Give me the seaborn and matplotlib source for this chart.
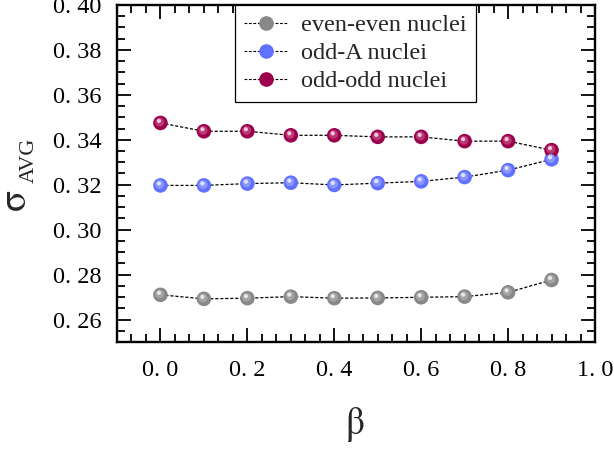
import numpy as np
import pandas as pd
import matplotlib
matplotlib.use("Agg")
import matplotlib.pyplot as plt
import matplotlib.transforms as mtransforms
from matplotlib.lines import Line2D
from matplotlib.ticker import AutoMinorLocator
import seaborn as sns

# ---- data ----
beta = [0.0, 0.1, 0.2, 0.3, 0.4, 0.5, 0.6, 0.7, 0.8, 0.9]
even_even = [0.2710, 0.2692, 0.2695, 0.2702, 0.2695, 0.2696, 0.2699, 0.2702, 0.2721, 0.2776]
odd_A = [0.3197, 0.3197, 0.3205, 0.3209, 0.3199, 0.3207, 0.3215, 0.3234, 0.3265, 0.3313]
odd_odd = [0.3475, 0.3438, 0.3438, 0.3420, 0.3420, 0.3413, 0.3413, 0.3394, 0.3394, 0.3354]
series_names = ["even-even nuclei", "odd-A nuclei", "odd-odd nuclei"]
x_ticks = [0.0, 0.2, 0.4, 0.6, 0.8, 1.0]
x_ticklabels = ["0. 0", "0. 2", "0. 4", "0. 6", "0. 8", "1. 0"]
y_ticks = [0.26, 0.28, 0.30, 0.32, 0.34, 0.36, 0.38, 0.40]
y_ticklabels = ["0. 26", "0. 28", "0. 30", "0. 32", "0. 34", "0. 36", "0. 38", "0. 40"]

colors = {"even-even nuclei": "#888888", "odd-A nuclei": "#6070ff", "odd-odd nuclei": "#9c004c"}
mid_colors = {"even-even nuclei": "#a4a4a4", "odd-A nuclei": "#8a96ff", "odd-odd nuclei": "#b83874"}
hi_colors = {"even-even nuclei": "#e8e8e8", "odd-A nuclei": "#e0e4ff", "odd-odd nuclei": "#f0c8d8"}

df = pd.DataFrame({
    "beta": beta * 3,
    "sigma": even_even + odd_A + odd_odd,
    "series": sum([[n] * len(beta) for n in series_names], []),
})

sns.set_theme(style="white")
plt.rcParams["font.family"] = "serif"
plt.rcParams["font.serif"] = ["Liberation Serif", "DejaVu Serif"]
plt.rcParams["mathtext.fontset"] = "stix"

fig = plt.figure(figsize=(6.14, 4.49), dpi=100)
ax = fig.add_axes([117 / 614, 1 - 342 / 449, 478 / 614, 337 / 449])

for name in series_names:
    sub = df[df["series"] == name]
    sns.lineplot(data=sub, x="beta", y="sigma", color="black", lw=0.9,
                 linestyle=(0, (2.5, 1.5)), ax=ax, legend=False, zorder=2)

sns.scatterplot(data=df, x="beta", y="sigma", hue="series", palette=colors,
                s=110, edgecolor="none", linewidth=0, ax=ax, legend=False, zorder=3)
off1 = mtransforms.offset_copy(ax.transData, fig=fig, x=-0.8, y=0.9, units="dots")
sns.scatterplot(data=df, x="beta", y="sigma", hue="series", palette=mid_colors,
                s=42, edgecolor="none", linewidth=0, ax=ax, legend=False, zorder=4,
                transform=off1)
off2 = mtransforms.offset_copy(ax.transData, fig=fig, x=-1.5, y=2.0, units="dots")
sns.scatterplot(data=df, x="beta", y="sigma", hue="series", palette=hi_colors,
                s=9, edgecolor="none", linewidth=0, ax=ax, legend=False, zorder=5,
                transform=off2)

ax.set_xlim(-0.1, 1.0)
ax.set_ylim(0.25, 0.40)
ax.set_xticks(x_ticks)
ax.set_xticklabels(x_ticklabels)
ax.set_yticks(y_ticks)
ax.set_yticklabels(y_ticklabels)
ax.xaxis.set_minor_locator(AutoMinorLocator(6))
ax.yaxis.set_minor_locator(AutoMinorLocator(4))
ax.tick_params(which="both", direction="in", top=True, right=True, bottom=True, left=True,
               colors="black", width=1.3)
ax.tick_params(which="major", length=10)
ax.tick_params(which="minor", length=5.5)
ax.tick_params(axis="x", which="major", labelsize=17.5, pad=13)
ax.tick_params(axis="y", which="major", labelsize=17.5, pad=11)
for sp in ax.spines.values():
    sp.set_visible(True)
    sp.set_color("black")
    sp.set_linewidth(1.7)
ax.set_xlabel("")
ax.set_ylabel("")

fig.text(355 / 614, 1 - 424 / 449, r"$\mathrm{\beta}$", fontsize=27, ha="center", va="center")
fig.text(17 / 614, 1 - 201 / 449, r"$\mathrm{\sigma}$", fontsize=28, rotation=90,
         ha="center", va="center")
fig.text(29.5 / 614, 1 - 160.5 / 449, "AVG", fontsize=16, rotation=90, ha="center", va="center")

handles = [Line2D([0], [0], color="black", lw=0.8, linestyle=(0, (2.5, 1.5)),
                  marker="o", markersize=9.5, markerfacecolor=colors[n], markeredgecolor=colors[n])
           for n in series_names]
leg = ax.legend(handles, series_names, loc="upper left", bbox_to_anchor=(0.247, 1.0),
                borderaxespad=0, frameon=True, fancybox=False, fontsize=17.5,
                handlelength=1.8, handletextpad=0.55, labelspacing=0.25, borderpad=0.38)
leg.get_frame().set_edgecolor("black")
leg.get_frame().set_linewidth(0.9)
leg.get_frame().set_alpha(1)

fig.savefig("out.png", dpi=100)
